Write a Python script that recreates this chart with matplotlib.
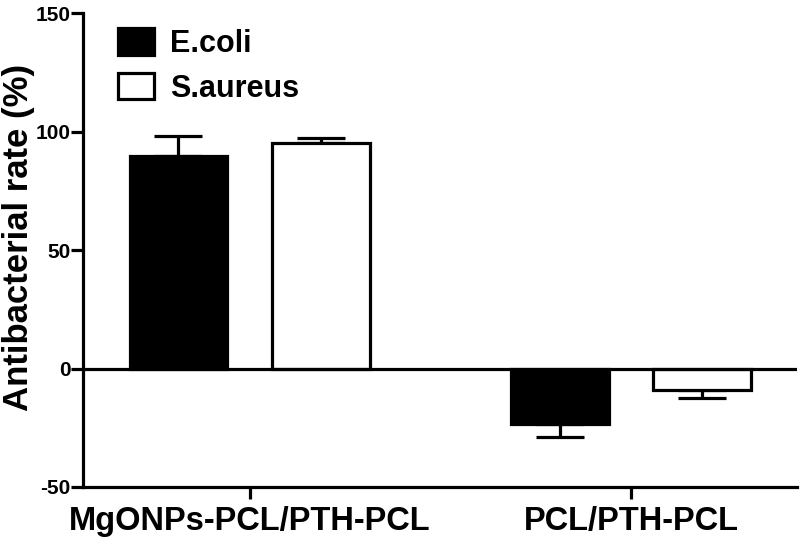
import matplotlib
matplotlib.use("Agg")
import matplotlib.pyplot as plt
import numpy as np

plt.rcParams['font.family'] = ['Liberation Sans', 'DejaVu Sans']
plt.rcParams['font.weight'] = 'bold'

groups = ["MgONPs-PCL/PTH-PCL", "PCL/PTH-PCL"]
series = ["E.coli", "S.aureus"]
ecoli = [89.5, -23.4]
ecoli_err = [8.5, 5.4]
saureus = [95.1, -9.1]
saureus_err = [2.0, 3.2]
yticks = [-50, 0, 50, 100, 150]

fig = plt.figure(figsize=(8, 5.47), dpi=100)
ax = fig.add_axes([0.104, 0.1097, 0.892, 0.8665])

x = np.arange(len(groups))
w = 0.257
off = 0.187
lw = 2.3

def one_sided(vals, errs):
    lower = [0 if v >= 0 else e for v, e in zip(vals, errs)]
    upper = [e if v >= 0 else 0 for v, e in zip(vals, errs)]
    return [lower, upper]

b1 = ax.bar(x - off, ecoli, w, color='black', edgecolor='black', linewidth=lw,
            label=series[0], zorder=2)
b2 = ax.bar(x + off, saureus, w, color='white', edgecolor='black', linewidth=lw,
            label=series[1], zorder=2)
ax.errorbar(x - off, ecoli, yerr=one_sided(ecoli, ecoli_err), fmt='none',
            ecolor='black', elinewidth=lw, capsize=17, capthick=lw, zorder=1)
ax.errorbar(x + off, saureus, yerr=one_sided(saureus, saureus_err), fmt='none',
            ecolor='black', elinewidth=lw, capsize=17, capthick=lw, zorder=1)

ax.axhline(0, color='black', linewidth=lw, zorder=3)

ax.set_xlim(-0.437, 1.435)
ax.set_ylim(-50, 150)
ax.set_yticks(yticks)
ax.set_yticklabels([str(t) for t in yticks], fontsize=15, fontweight='bold')
ax.set_xticks(x)
ax.set_xticklabels(groups, fontsize=23.5, fontweight='bold')
ax.tick_params(axis='both', width=lw, length=8.5, color='black')
ax.tick_params(axis='x', pad=5)
ax.tick_params(axis='y', pad=0.5)

for s in ['top', 'right']:
    ax.spines[s].set_visible(False)
for s in ['left', 'bottom']:
    ax.spines[s].set_linewidth(lw)

ax.set_ylabel("Antibacterial rate (%)", fontsize=25, fontweight='bold')
ax.yaxis.set_label_coords(-0.068, 0.526)

leg = ax.legend(handles=[b1, b2], loc='upper left', bbox_to_anchor=(0.147, 0.948),
                bbox_transform=fig.transFigure, frameon=False, fontsize=22,
                handlelength=1.18, handleheight=0.95, handletextpad=0.55,
                labelspacing=0.45, borderaxespad=0, borderpad=0)
for t in leg.get_texts():
    t.set_fontweight('bold')

fig.savefig("out.png", dpi=100)
